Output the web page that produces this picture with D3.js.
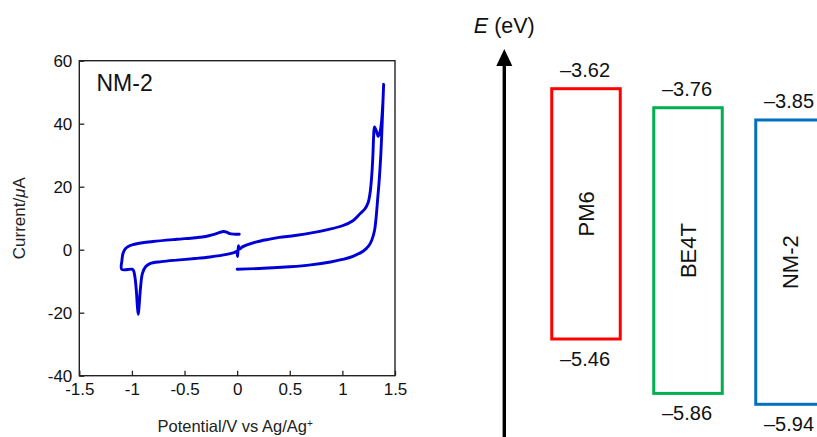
<!DOCTYPE html>
<html>
<head>
<meta charset="utf-8">
<script src="https://cdn.jsdelivr.net/npm/d3@7"></script>
<style>
  html, body { margin: 0; padding: 0; background: #fff; }
  svg { display: block; font-family: "Liberation Sans", Arial, sans-serif; }
</style>
</head>
<body>
<svg id="chart" width="817" height="437"></svg>
<script>
// ---- CV data (Potential / V vs Ag/Ag+, Current / µA) ----
const cvPotential = [
  0, 0.25, 0.5, 0.7, 0.887, 1.0, 1.1, 1.2, 1.25, 1.28, 1.305, 1.32, 1.335, 1.35, 1.365, 1.378, 1.387, 1.392,
  1.385, 1.37, 1.355, 1.34, 1.325, 1.305, 1.297, 1.29, 1.28, 1.265, 1.245, 1.215, 1.17, 1.1, 1.0, 0.85, 0.72, 0.55, 0.4, 0.3, 0.185, 0.1, 0.05, 0.02,
  0.012, 0.004, -0.005, -0.03, -0.1, -0.258, -0.4, -0.574, -0.72, -0.828, -0.87, -0.9, -0.918, -0.932, -0.94, -0.948, -0.958, -0.97, -0.985, -1.0, -1.097,
  -1.095, -1.085, -1.065, -1.035, -0.99, -0.9, -0.8, -0.574, -0.4, -0.3, -0.227, -0.17, -0.13, -0.1, -0.07, 0.02
];
const cvCurrent = [
  -6.2, -5.9, -5.4, -4.8, -3.9, -3.1, -2.1, -0.4, 1.2, 3.1, 6, 10, 16, 22, 30, 40, 48, 52.5,
  47, 40, 37, 36, 37.5, 39, 36, 30, 24, 18.5, 15, 13, 11.5, 9.2, 7.6, 6.3, 5.4, 4.5, 3.9, 3.3, 2.5, 1.6, 0.9, 0.2,
  1.3, -2.2, -0.6, -0.9, -1.5, -2.3, -2.8, -3.3, -3.8, -4.4, -5.4, -7.5, -12, -18, -20.5, -18, -13, -9, -6.6, -6.2, -6.2,
  -3.5, -1.2, 0.2, 1.0, 1.6, 2.2, 2.6, 3.3, 3.8, 4.2, 4.8, 5.4, 5.8, 5.6, 5.1, 4.9
];
const xTicks = [-1.5, -1, -0.5, 0, 0.5, 1, 1.5];
const yTicks = [60, 40, 20, 0, -20, -40];

// ---- Energy level data (eV) ----
const materials = ["PM6", "BE4T", "NM-2"];
const lumo = [-3.62, -3.76, -3.85];
const homo = [-5.46, -5.86, -5.94];
const boxColors = ["#ff0000", "#00b050", "#0070c0"];

const svg = d3.select("#chart");
const FONT = '"Liberation Sans", Arial, sans-serif';

// ================= CV panel =================
const plot = { left: 79.3, right: 395, top: 60.7, bottom: 375.7 };
const x = d3.scaleLinear().domain([-1.5, 1.5]).range([plot.left, plot.right]);
const y = d3.scaleLinear().domain([-40, 60]).range([plot.bottom, plot.top]);

const fmt = d => String(d);

const gx = svg.append("g")
  .attr("transform", `translate(0,${plot.bottom})`)
  .call(d3.axisBottom(x).tickValues(xTicks).tickFormat(fmt).tickSize(-5).tickPadding(7));
const gy = svg.append("g")
  .attr("transform", `translate(${plot.left},0)`)
  .call(d3.axisLeft(y).tickValues(yTicks).tickFormat(fmt).tickSize(-5).tickPadding(7));
[gx, gy].forEach(g => {
  g.select(".domain").remove();
  g.selectAll(".tick line").attr("stroke", "#222").attr("stroke-width", 1.3);
  g.selectAll(".tick text").attr("fill", "#111").style("font-size", "17px").style("font-family", FONT);
});

// frame
svg.append("rect")
  .attr("x", plot.left).attr("y", plot.top)
  .attr("width", plot.right - plot.left).attr("height", plot.bottom - plot.top)
  .attr("fill", "none").attr("stroke", "#222").attr("stroke-width", 1.4);

// CV curve
const cvData = cvPotential.map((v, i) => [v, cvCurrent[i]]);
const line = d3.line().x(d => x(d[0])).y(d => y(d[1])).curve(d3.curveCatmullRom.alpha(0.5));
svg.append("path")
  .datum(cvData)
  .attr("d", line)
  .attr("fill", "none")
  .attr("stroke", "#0000d6")
  .attr("stroke-width", 2.9)
  .attr("stroke-linejoin", "round")
  .attr("stroke-linecap", "round");

// label in plot
svg.append("text")
  .attr("x", 96.5).attr("y", 91)
  .style("font-size", "23px").attr("fill", "#111")
  .text("NM-2");

// axis titles
const xt = svg.append("text")
  .attr("x", (plot.left + plot.right) / 2 - 2).attr("y", 432)
  .attr("text-anchor", "middle").style("font-size", "16.5px").attr("fill", "#222");
xt.append("tspan").text("Potential/V vs Ag/Ag");
xt.append("tspan").attr("baseline-shift", "super").style("font-size", "10px").text("+");

const yt = svg.append("text")
  .attr("transform", `translate(25,${(plot.top + plot.bottom) / 2}) rotate(-90)`)
  .attr("text-anchor", "middle").style("font-size", "17px").attr("fill", "#222");
yt.append("tspan").text("Current/");
yt.append("tspan").style("font-style", "italic").text("μ");
yt.append("tspan").text("A");

// ================= Energy diagram =================
const e = d3.scaleLinear().domain([-3.62, -5.46]).range([88.7, 339]);
const bx = d3.scalePoint().domain(materials).range([586, 790]);
const boxW = 68.5;

// arrow axis
const arrowX = 504.3;
svg.append("line")
  .attr("x1", arrowX).attr("x2", arrowX)
  .attr("y1", e(-3.62) - 24).attr("y2", 440)
  .attr("stroke", "#000").attr("stroke-width", 3.4);
const tipY = e(-3.62) - 39.7;
svg.append("path")
  .attr("d", `M${arrowX},${tipY} L${arrowX - 8},${tipY + 17} L${arrowX + 8},${tipY + 17} Z`)
  .attr("fill", "#000");

const et = svg.append("text")
  .attr("x", arrowX).attr("y", 33)
  .attr("text-anchor", "middle").style("font-size", "21.5px").attr("fill", "#111");
et.append("tspan").style("font-style", "italic").text("E");
et.append("tspan").text(" (eV)");

materials.forEach((m, i) => {
  const cx = bx(m);
  const top = e(lumo[i]), bot = e(homo[i]);
  svg.append("rect")
    .attr("x", cx - boxW / 2).attr("y", top)
    .attr("width", boxW).attr("height", bot - top)
    .attr("fill", "none").attr("stroke", boxColors[i]).attr("stroke-width", 3);
  svg.append("text")
    .attr("x", cx - 1).attr("y", top - 12)
    .attr("text-anchor", "middle").style("font-size", "20px").attr("fill", "#111")
    .text("\u2013" + Math.abs(lumo[i]).toFixed(2));
  svg.append("text")
    .attr("x", cx - 1).attr("y", bot + 27)
    .attr("text-anchor", "middle").style("font-size", "20px").attr("fill", "#111")
    .text("\u2013" + Math.abs(homo[i]).toFixed(2));
  svg.append("text")
    .attr("transform", `translate(${cx + 8},${(top + bot) / 2}) rotate(-90)`)
    .attr("text-anchor", "middle").style("font-size", "22px").attr("fill", "#111")
    .text(m);
});
</script>
</body>
</html>
